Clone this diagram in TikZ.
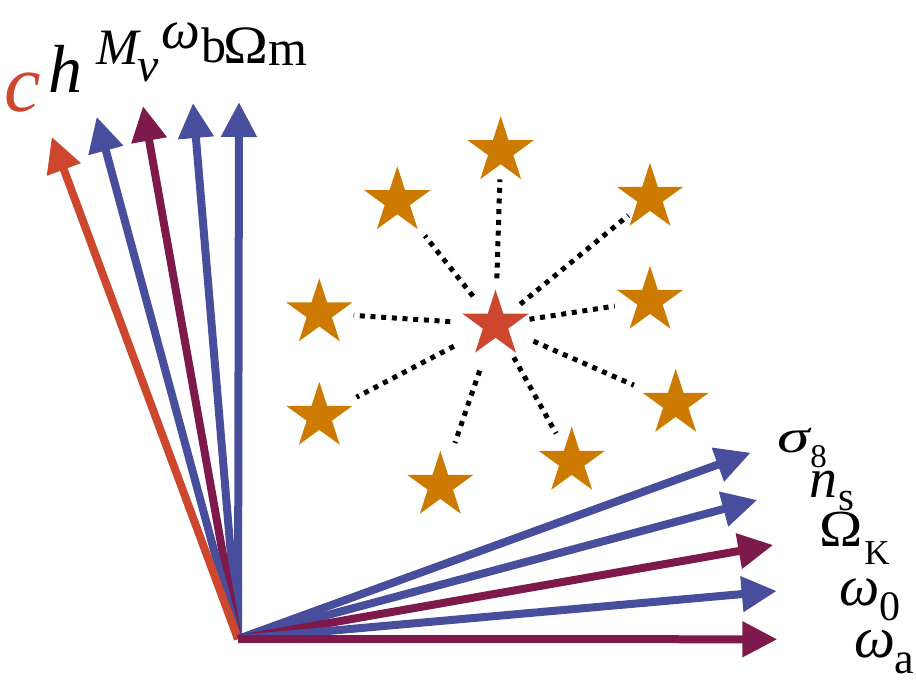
\documentclass[tikz,border=0pt]{standalone}
\usepackage{fontspec}
\setmainfont{Liberation Serif}
\usetikzlibrary{arrows.meta,shapes.geometric,calc}
\definecolor{cred}{HTML}{CD462E}
\definecolor{cblue}{HTML}{484E9B}
\definecolor{cpurp}{HTML}{7E1A4B}
\definecolor{corange}{HTML}{CD7A00}
\newcommand{\fsz}[1]{\fontsize{#1}{#1}\selectfont}
\newcommand{\subl}[3]{\raisebox{-#1pt}{\fsz{#2}#3}}
\newcommand{\wide}[2]{\scalebox{#1}[1]{#2}}
\begin{document}
\begin{tikzpicture}[x=1pt,y=-1pt,
  arr/.style={line width=8pt,-{Triangle[length=35pt,width=34pt]}},
  conn/.style={line width=5pt,dash pattern=on 5pt off 5.7pt,black},
  starnode/.style={star,star points=5,star point ratio=2.618,minimum size=69.6pt,inner sep=0pt,outer sep=0pt,draw=none},
  lab/.style={inner sep=0pt,outer sep=0pt,anchor=base west}]
\useasboundingbox (0,0) rectangle (916,682);
% origin and arrow ends
\coordinate (O) at (238,639);
\coordinate (tc) at (51.7,136.7);
\coordinate (th) at (96.7,116.7);
\coordinate (tM) at (143,106);
\coordinate (twb) at (193,103);
\coordinate (tOm) at (239,102);
\coordinate (ts8) at (750.7,452.7);
\coordinate (tns) at (757.3,500);
\coordinate (tOK) at (773.3,545);
\coordinate (tw0) at (776.7,591);
\coordinate (twa) at (777.3,639.3);
% arrows
\draw[arr,cblue] (O) -- (tOm);
\draw[arr,cblue] (O) -- (twb);
\draw[arr,cpurp] (O) -- (tM);
\draw[arr,cblue] (O) -- (th);
\draw[arr,cred] (O) -- (tc);
\draw[arr,cblue] (O) -- (ts8);
\draw[arr,cblue] (O) -- (tns);
\draw[arr,cpurp] (O) -- (tOK);
\draw[arr,cblue] (O) -- (tw0);
\draw[arr,cpurp] (O) -- (twa);
% labels
\node[lab,text=cred] (lc) at (5,112) {\fsz{82}\itshape c};
\node[lab] (lh) at (48,93) {\fsz{68}\itshape h};
\node[lab] (lM) at (96,65) {\fsz{51}\itshape M\kern-1pt\subl{17}{48}{ν}};
\node[lab] (lwb) at (161,49) {\fsz{55}\itshape ω\upshape\kern2pt\subl{14}{50}{b}};
\node[lab] (lOm) at (223,64) {\fsz{54}\wide{1.12}{Ω}\kern1pt\subl{2}{50}{m}};
\node[lab] (ls8) at (777,452) {\fsz{47}\itshape\wide{1.4}{σ}\upshape\kern1pt\subl{15}{33}{8}};
\node[lab] (lns) at (809,497) {\fsz{56}\itshape n\upshape\kern1pt\subl{13}{41}{s}};
\node[lab] (lOK) at (819,546) {\fsz{52}\wide{1.12}{Ω}\kern2pt\subl{18}{35}{K}};
\node[lab] (lw0) at (839,605) {\fsz{57}\itshape ω\upshape\subl{15}{42}{0}};
\node[lab] (lwa) at (854,657) {\fsz{58}\itshape ω\upshape\subl{16}{44}{a}};
% stars
\node[starnode,fill=cred] (r) at (495.5,324.5) {};
\node[starnode,fill=corange] (s1) at (500.7,151) {};
\node[starnode,fill=corange] (s2) at (397.3,201) {};
\node[starnode,fill=corange] (s3) at (650,197.6) {};
\node[starnode,fill=corange] (s4) at (319.3,313.2) {};
\node[starnode,fill=corange] (s5) at (650,300.6) {};
\node[starnode,fill=corange] (s6) at (319.3,416.6) {};
\node[starnode,fill=corange] (s7) at (675.7,403.6) {};
\node[starnode,fill=corange] (s8) at (571.7,461.6) {};
\node[starnode,fill=corange] (s9) at (440.3,485.6) {};
% dotted connectors
\draw[conn] ($(r.center)!0.266!(s1.center)$) -- ($(r.center)!0.836!(s1.center)$);
\draw[conn] ($(r.center)!0.229!(s2.center)$) -- ($(r.center)!0.719!(s2.center)$);
\draw[conn] ($(r.center)!0.16!(s3.center)$) -- ($(r.center)!0.86!(s3.center)$);
\draw[conn] ($(r.center)!0.257!(s4.center)$) -- ($(r.center)!0.805!(s4.center)$);
\draw[conn] ($(r.center)!0.22!(s5.center)$) -- ($(r.center)!0.772!(s5.center)$);
\draw[conn] ($(r.center)!0.236!(s6.center)$) -- ($(r.center)!0.789!(s6.center)$);
\draw[conn] ($(r.center)!0.211!(s7.center)$) -- ($(r.center)!0.768!(s7.center)$);
\draw[conn] ($(r.center)!0.24!(s8.center)$) -- ($(r.center)!0.795!(s8.center)$);
\draw[conn] ($(r.center)!0.286!(s9.center)$) -- ($(r.center)!0.735!(s9.center)$);
\end{tikzpicture}
\end{document}
